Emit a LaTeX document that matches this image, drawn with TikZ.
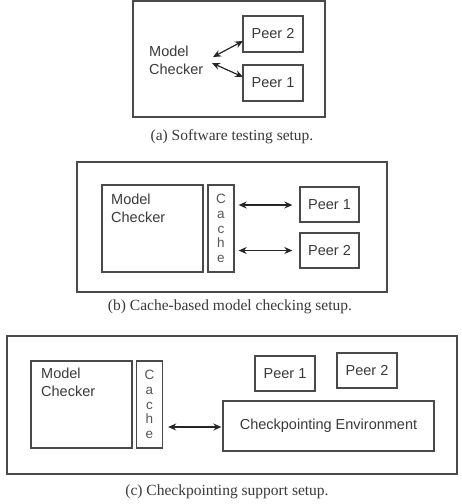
\documentclass[tikz,border=0pt]{standalone}
\usepackage{fontspec}
\setmainfont{Liberation Serif}
\newfontfamily\hv{Liberation Sans}
\usetikzlibrary{arrows.meta,calc}
\definecolor{ln}{HTML}{4A4A4A}
\definecolor{tx}{HTML}{3A3A3A}
\tikzset{
  outerbox/.style={draw=ln,line width=1.6pt},
  box/.style={draw=ln,line width=1.3pt,inner sep=0pt,text=tx,font=\hv\fontsize{14.5}{17}\selectfont},
  cachebox/.style={draw=ln,line width=1.3pt,inner sep=0pt,text=tx!85,align=center,
    font=\hv\fontsize{13.5}{14.6}\selectfont,minimum width=26pt,minimum height=87pt},
  mctext/.style={inner sep=0pt,align=left,text=tx,font=\hv\fontsize{14.5}{18.5}\selectfont},
  conn/.style={draw=black!85,line width=1.2pt,{Stealth[length=8pt,width=7pt]}-{Stealth[length=8pt,width=7pt]}},
  captext/.style={inner sep=0pt,text=tx,font=\fontsize{15.5}{18}\selectfont}
}
\begin{document}
\begin{tikzpicture}[x=1pt,y=-1pt]
\useasboundingbox[fill=white] (0,0) rectangle (462,504);
% ---------- (a)
\node[outerbox,minimum width=192pt,minimum height=116pt,inner sep=0pt] (oa) at (229,59) {};
\node[box,minimum width=60pt,minimum height=36pt] (p2a) at (273,34) {Peer 2};
\node[box,minimum width=60pt,minimum height=36pt] (p1a) at (273,83) {Peer 1};
\node[mctext,anchor=north west] (mca) at (149,45.5) {Model\\Checker};
\coordinate (a1s) at (213,57);
\coordinate (a1e) at (243,41);
\coordinate (a2s) at (212,63);
\coordinate (a2e) at (243,77);
\draw[conn] (a1s) -- (a1e);
\draw[conn] (a2s) -- (a2e);
\node[captext] (ca) at (232,137) {(a) Software testing setup.};
% ---------- (b)
\node[outerbox,minimum width=310pt,minimum height=130pt,inner sep=0pt] (ob) at (232,227) {};
\node[box,minimum width=101pt,minimum height=87pt] (mcb) at (152.5,228.5) {};
\node[mctext,anchor=north west] (mcbt) at (111,193.5) {Model\\Checker};
\node[cachebox] (cb) at (221,228.5) {C\\a\\c\\h\\e};
\node[box,minimum width=59pt,minimum height=35pt] (p1b) at (329.5,204.5) {Peer 1};
\node[box,minimum width=59pt,minimum height=35pt] (p2b) at (329.5,250.5) {Peer 2};
\draw[conn] ($(cb.east)+(4,-23.5)$) -- ($(p1b.west)+(-7,0.5)$);
\draw[conn] ($(cb.east)+(4,22)$) -- ($(p2b.west)+(-7,0)$);
\node[captext] (cbcap) at (230,307) {(b) Cache-based model checking setup.};
% ---------- (c)
\node[outerbox,minimum width=450pt,minimum height=138pt,inner sep=0pt] (oc) at (232,405) {};
\node[box,minimum width=101pt,minimum height=87pt] (mcc) at (81.5,404.5) {};
\node[mctext,anchor=north west] (mcct) at (41,367.5) {Model\\Checker};
\node[cachebox] (cc) at (149.5,404.5) {C\\a\\c\\h\\e};
\node[box,minimum width=60pt,minimum height=35pt] (p1c) at (285,373.5) {Peer 1};
\node[box,minimum width=60pt,minimum height=35pt] (p2c) at (367,370.5) {Peer 2};
\node[box,minimum width=211pt,minimum height=50pt] (env) at (328.5,426) {Checkpointing Environment};
\draw[conn] ($(cc.east)+(5,22.5)$) -- ($(env.west)+(-1,1)$);
\node[captext] (cccap) at (227,492) {(c) Checkpointing support setup.};
\end{tikzpicture}
\end{document}
